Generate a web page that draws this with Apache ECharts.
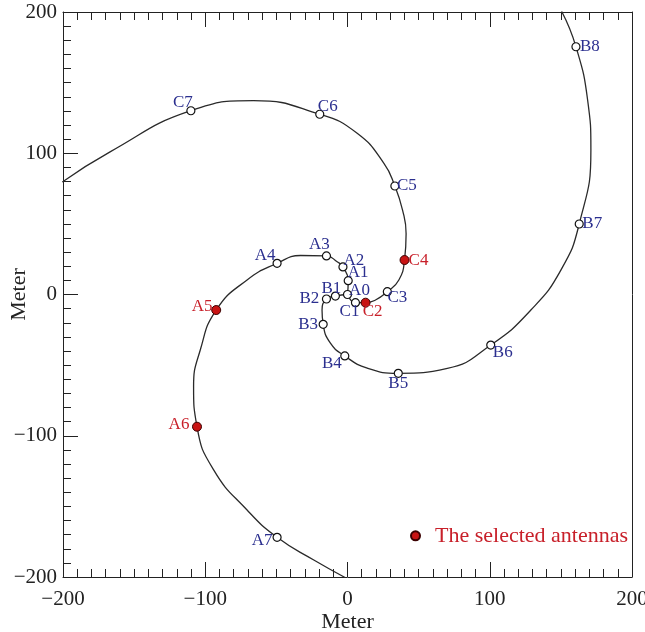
<!DOCTYPE html>
<html>
<head>
    <title>Antenna layout</title>
    <script src="https://cdn.jsdelivr.net/npm/echarts@6/dist/echarts.min.js"></script>
</head>
<body style="margin:0;">
    <div id="chart" style="width: 645px; height: 632px;"></div>
    <script type="text/javascript">
        // antenna positions in metres
        const antennaNames = ['A0', 'A1', 'A2', 'A3', 'A4', 'A5', 'A6', 'A7',
                              'B1', 'B2', 'B3', 'B4', 'B5', 'B6', 'B7', 'B8',
                              'C1', 'C2', 'C3', 'C4', 'C5', 'C6', 'C7'];
        const antennaX = [0, 0.5, -3.2, -14.8, -49.5, -92.3, -105.8, -49.5,
                          -8.5, -14.8, -17.1, -1.9, 35.7, 100.7, 162.9, 160.6,
                          5.6, 12.7, 28.0, 40.1, 33.3, -19.5, -110.1];
        const antennaY = [0, 9.8, 19.5, 27.3, 22.1, -11.0, -93.6, -171.9,
                          -1.1, -3.2, -21.1, -43.5, -55.8, -35.8, 49.9, 175.4,
                          -5.8, -5.8, 2.0, 24.4, 76.8, 127.6, 130.1];
        const selectedNames = ['A5', 'A6', 'C2', 'C4'];

        // spiral arms, centre outward
        const armA = [[0, 0], [0.5, 9.8], [-3.2, 19.5], [-7.3, 23.2], [-14.8, 27.3], [-33, 27.6],
                      [-49.5, 22.1], [-70.6, 10.3], [-92.3, -11.0], [-103.5, -39.3], [-108.2, -65.3],
                      [-105.8, -93.6], [-94.1, -124.2], [-70.6, -152.6], [-49.5, -171.9],
                      [-23.7, -188], [-1.4, -200.5]];
        const armB = [[0, 0], [-8.5, -1.1], [-14.8, -3.2], [-17.9, -11], [-17.1, -21.1], [-12, -34.5],
                      [-1.9, -43.5], [13.9, -52.2], [35.7, -55.8], [70.2, -52.3], [100.7, -35.8],
                      [128.9, -11], [150, 17.3], [162.9, 49.9], [171.1, 102.3],
                      [168.8, 137.7], [160.6, 175.4], [150.5, 200.5]];
        const armC = [[0, 0], [5.6, -5.8], [12.7, -5.8], [19.7, -3.9], [28.0, 2.0], [36.1, 10.3],
                      [40.1, 24.4], [41.2, 43], [38.7, 59.8], [33.3, 76.8], [25.6, 92.9],
                      [6.8, 114.1], [-19.5, 127.6], [-66, 137.2], [-110.1, 130.1],
                      [-166.9, 101], [-200.5, 79.6]];

        // label offsets (px) of each name from its marker
        const labelOffset = {
            A0: [12, -4], A1: [10, -8], A2: [11, -6], A3: [-7, -11], A4: [-12, -8],
            A5: [-14, -4], A6: [-18, -2], A7: [-15, 3],
            B1: [-4, -8], B2: [-17, 0], B3: [-15, 0], B4: [-13, 8], B5: [0, 10],
            B6: [12, 7], B7: [13, 0], B8: [14, 0],
            C1: [-6, 9], C2: [7, 9], C3: [10, 6], C4: [14, 0], C5: [12, 0], C6: [8, -8], C7: [-8, -8]
        };

        const serif = "'Liberation Serif', 'DejaVu Serif', serif";
        const blue = '#2b2f8f';
        const red = '#c8202a';

        let normalPts = [];
        let selectedPts = [];
        antennaNames.forEach(function(n, i) {
            let item = {name: n, value: [antennaX[i], antennaY[i]], label: {offset: labelOffset[n]}};
            if (selectedNames.indexOf(n) >= 0) selectedPts.push(item);
            else normalPts.push(item);
        });

        function fmt(v) {
            return v < 0 ? '\u2212' + Math.abs(v) : String(v);
        }

        function xAxisOf(pos) {
            return {
                type: 'value', position: pos, min: -200, max: 200, interval: 100,
                axisLine: {onZero: false, lineStyle: {color: '#222', width: 1}},
                axisTick: {inside: true, length: 15, lineStyle: {color: '#222'}},
                minorTick: {show: true, splitNumber: 10, length: 8, lineStyle: {color: '#222'}},
                splitLine: {show: false},
                axisLabel: {show: pos === 'bottom', fontFamily: serif, fontSize: 21, color: '#222',
                            margin: 6, formatter: fmt},
                name: pos === 'bottom' ? 'Meter' : '',
                nameLocation: 'middle', nameGap: 28, nameMoveOverlap: false,
                nameTextStyle: {fontFamily: serif, fontSize: 22, color: '#222'}
            };
        }

        let myChart = echarts.init(document.getElementById('chart'));
        let option = {
            animation: false,
            grid: {left: 63, right: 13, top: 12, bottom: 55, containLabel: false, outerBoundsMode: 'none'},
            xAxis: [xAxisOf('bottom'), xAxisOf('top')],
            yAxis: [{
                type: 'value', position: 'left', min: -200, max: 200, interval: 100,
                axisLine: {onZero: false, lineStyle: {color: '#222', width: 1}},
                axisTick: {inside: true, length: 15, lineStyle: {color: '#222'}},
                minorTick: {show: true, splitNumber: 10, length: 8, lineStyle: {color: '#222'}},
                splitLine: {show: false},
                axisLabel: {fontFamily: serif, fontSize: 21, color: '#222', margin: 6, formatter: fmt},
                name: 'Meter', nameLocation: 'middle', nameGap: 27, nameMoveOverlap: false,
                nameTextStyle: {fontFamily: serif, fontSize: 22, color: '#222'}
            }, {
                type: 'value', position: 'right', min: -200, max: 200,
                axisLine: {show: true, onZero: false, lineStyle: {color: '#222', width: 1}},
                axisTick: {show: false}, axisLabel: {show: false}, splitLine: {show: false}
            }],
            legend: {
                data: [{name: 'The selected antennas', icon: 'circle'}],
                left: 410, top: 519, padding: 0, itemWidth: 9, itemHeight: 9,
                textStyle: {color: red, fontFamily: serif, fontSize: 22, padding: [0, 0, 0, 10]}
            },
            series: [
                {type: 'line', name: 'armA', data: armA},
                {type: 'line', name: 'armB', data: armB},
                {type: 'line', name: 'armC', data: armC}
            ].map(function(s) {
                return Object.assign(s, {
                    showSymbol: false, smooth: 0.5, silent: true, z: 2,
                    lineStyle: {color: '#2a2a2a', width: 1.3}
                });
            }).concat([{
                type: 'scatter', name: 'antennas', data: normalPts, z: 3,
                symbol: 'circle', symbolSize: 8,
                itemStyle: {color: '#ffffff', borderColor: '#111', borderWidth: 1.2, opacity: 1},
                label: {show: true, position: 'inside', formatter: '{b}', color: blue,
                        fontFamily: serif, fontSize: 17, textBorderWidth: 0}
            }, {
                type: 'scatter', name: 'The selected antennas', data: selectedPts, z: 4,
                symbol: 'circle', symbolSize: 9,
                itemStyle: {color: '#c81414', borderColor: '#3a0000', borderWidth: 1, opacity: 1},
                label: {show: true, position: 'inside', formatter: '{b}', color: red,
                        fontFamily: serif, fontSize: 17, textBorderWidth: 0}
            }])
        };

        myChart.setOption(option);
    </script>
</body>
</html>
